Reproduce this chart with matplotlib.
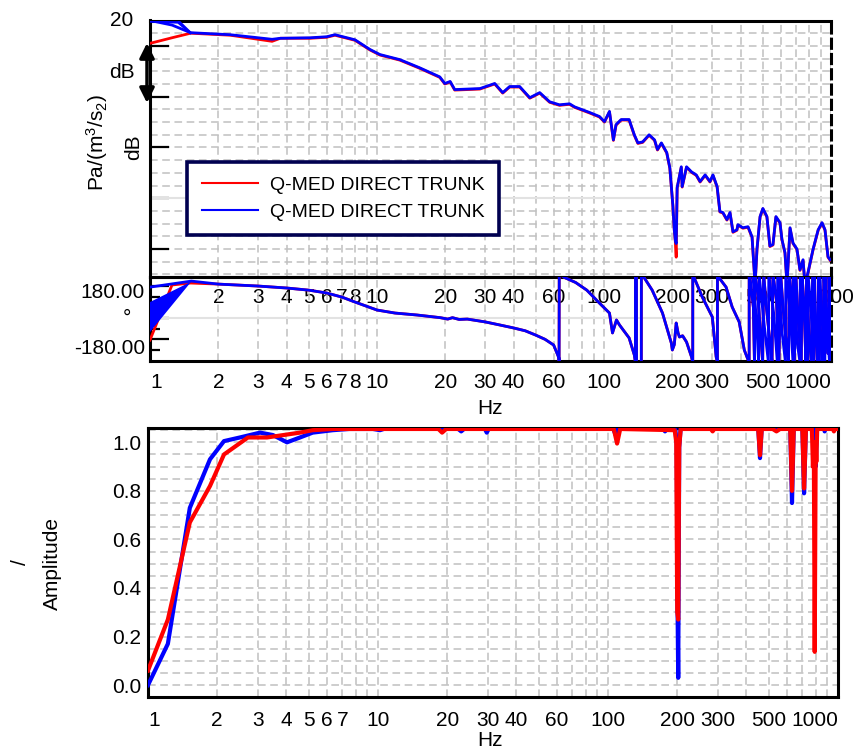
import numpy as np
import matplotlib
matplotlib.use('Agg')
import matplotlib.pyplot as plt
from matplotlib.lines import Line2D
from matplotlib.ticker import LogLocator, NullFormatter, FixedLocator, MultipleLocator

plt.rcParams['font.family'] = ['Liberation Sans', 'DejaVu Sans']
plt.rcParams['mathtext.fontset'] = 'custom'
plt.rcParams['mathtext.rm'] = 'Liberation Sans'
plt.rcParams['mathtext.it'] = 'Liberation Sans'
plt.rcParams['mathtext.default'] = 'regular'

# ---------------- data ----------------
# magnitude (dB) : (Hz, red, blue)
mag_freq = [1.0, 1.25, 1.51, 2.26, 3.45, 3.75, 5.08, 6.0, 6.53, 8.0, 9.31, 10.3, 12.6, 15.4,
            18.9, 19.9, 21.0, 22.0, 28.4, 33.0, 35.8, 38.4, 42.5, 47.1, 52.1, 57.6, 63.7,
            70.5, 74.2, 86.3, 95.5, 100.5, 105.7, 110, 113, 119, 129, 136, 141, 148, 158,
            167, 172, 179, 189, 195, 201, 204, 206, 208, 210, 219, 221, 231, 243, 255, 265,
            279, 293, 302, 315, 324, 334, 348, 359, 370, 385, 389, 409, 431, 449, 463, 472,
            487, 501, 522, 538, 555, 572, 596, 608, 627, 640, 660, 680, 708, 730, 753, 768,
            792, 834, 878, 913, 941, 970, 991]
mag_red = [15.5, 16.6, 17.5, 17.1, 15.9, 16.5, 16.5, 16.7, 17.1, 16.1, 14.2, 13.2, 12.2, 10.6,
           8.8, 7.5, 7.9, 6.3, 6.5, 7.5, 5.7, 6.9, 6.9, 4.7, 5.7, 3.9, 3.3,
           3.5, 2.9, 1.8, 1.0, 0.0, 2.0, -3.6, -0.6, 0.4, 0.4, -2.6, -4.2, -4.0, -2.6,
           -3.6, -5.5, -4.2, -6.1, -9.1, -16.4, -21.3, -23.3, -26.6, -13.0, -8.9, -12.8, -8.9, -9.9, -10.5, -11.8,
           -10.5, -11.8, -10.5, -12.8, -17.7, -17.9, -19.3, -17.9, -21.7, -21.3, -20.3, -20.9, -20.7, -22.7, -32.0, -25.1,
           -18.7, -17.1, -18.7, -24.5, -24.2, -18.7, -19.9, -23.2, -25.8, -32.0, -20.9, -23.9, -25.1, -29.2, -27.2, -32.0,
           -29.7, -25.1, -21.3, -19.9, -21.3, -26.6, -27.2]
mag_blue = [20.0, 19.1, 17.6, 17.2, 16.3, 16.5, 16.6, 16.8, 17.2, 16.2, 14.3, 13.3, 12.3, 10.7,
            8.9, 7.6, 8.0, 6.4, 6.6, 7.6, 5.8, 7.0, 7.0, 4.8, 5.8, 4.0, 3.4,
            3.6, 3.0, 1.9, 1.1, 0.1, 2.1, -3.5, -0.5, 0.5, 0.5, -2.5, -4.1, -3.9, -2.5,
            -3.5, -5.4, -4.1, -6.0, -9.0, -16.3, -21.2, -23.2, -23.9, -12.9, -8.8, -12.7, -8.8, -9.8, -10.4, -11.7,
            -10.4, -11.7, -10.4, -12.7, -17.6, -17.8, -19.2, -17.8, -21.6, -21.2, -20.2, -20.8, -20.6, -22.6, -32.0, -25.0,
            -18.6, -17.0, -18.6, -24.4, -24.1, -18.6, -19.8, -23.1, -25.7, -32.0, -20.8, -23.8, -25.0, -29.1, -27.1, -32.0,
            -29.6, -25.0, -21.2, -19.8, -21.2, -26.5, -27.1]
# extra blue repeat traces at the low-frequency end of the magnitude
mag_blue_extra_freq = [1.0, 1.33, 1.51]
mag_blue_extra = [[20.0, 20.0, 17.6], [19.8, 19.6, 17.5]]

# phase (deg), wrapped as displayed
phase_freq = [2.0, 3.0, 4.0, 5.0, 6.0, 7.0, 8.0, 10, 12, 15, 19, 20.5, 21.5, 23, 25, 30, 35, 40,
              45, 50, 55, 60, 63.3, 63.4, 63.5, 67, 75, 84, 95.5, 105.7, 109, 113.5, 117, 129,
              136, 137.5, 137.6, 139, 139.1, 146, 146.1, 150.7, 163, 181, 198, 200, 204, 208,
              212, 215, 222, 231, 243, 246, 246.1, 250, 271, 300, 312, 316, 316.1, 322, 345,
              367, 394, 415, 428, 436, 436.1, 440, 455, 460, 462, 475, 490, 500, 505, 520, 540,
              550, 555, 575, 590, 600, 620, 640, 650, 655, 670, 690, 700, 720, 740, 745, 760,
              775, 780, 800, 820, 830, 850, 870, 880, 900, 920, 930, 950, 970, 980, 990, 1000]
phase_vals = [191, 180, 169, 157, 141, 118, 90, 45, 28, 17, 2, -6, 2, -8, -6, -22, -40, -56,
              -72, -96, -120, -152, -225, -250, 250, 228, 200, 157, 84, 28, -84, -11, -39, -112,
              -208, -250, 250, 250, -250, -250, 250, 225, 157, 28, -141, -180, -150, -28,
              -84, -107, -100, -135, -219, -250, 250, 225, 118, 6, -219, -250, 250, 225, 174,
              62, -22, -180, -225, -250, 250, 225, 60, -250, 250, 150, -100, -250, 250, 50, -150,
              -250, 250, 100, -250, 250, 0, -180, -250, 250, 120, -250, 250, -50, -250, 250, 80,
              -250, 250, -100, -250, 250, 0, -250, 250, -120, -250, 250, 30, -200, 250, -60, -200]
# second (blue-only) chaotic branch visible above ~450 Hz
phase_blue_hf_freq = [452, 470, 480, 482, 510, 530, 532, 560, 580, 582, 610, 630, 632, 660,
                      680, 682, 710, 730, 732, 770, 790, 792, 815, 840, 842, 860, 890, 892,
                      910, 940, 942, 960, 985, 987, 1000]
phase_blue_hf = [250, -20, -250, 250, -60, -250, 250, 20, -250, 250, -90, -250, 250, 40,
                 -250, 250, -140, -250, 250, -30, -250, 250, 60, -250, 250, -80, -250, 250,
                 20, -250, 250, -40, -250, 250, 100]
phase_red_start_freq = [1.0, 1.25, 1.51]
phase_red_start = [-124, 186, 197]
phase_blue_start_freq = [1.0, 1.52]
phase_blue_start = [174, 208]
phase_blue_band_freq = [1.0, 1.0, 1.52]
phase_blue_band = [90, -79, 205]

# amplitude : (Hz, value)
amp_blue = [(1.0, 0.0), (1.22, 0.17), (1.52, 0.73), (1.86, 0.93), (2.14, 1.005), (2.51, 1.02),
            (3.07, 1.04), (3.49, 1.03), (4.02, 1.0), (4.58, 1.02), (5.2, 1.04), (6.36, 1.05),
            (7.5, 1.055), (9.5, 1.055), (10.2, 1.05), (11, 1.06), (22, 1.06), (23, 1.045),
            (24, 1.06), (29, 1.06), (29.7, 1.04), (30.5, 1.06), (105, 1.06), (108, 1.03),
            (111, 1.06), (172, 1.06), (177, 1.045), (182, 1.06), (196, 1.06), (199, 0.99),
            (200.5, 0.35), (202, 0.03), (204, 0.98), (207, 1.06), (450, 1.06), (458, 0.935),
            (466, 1.06), (620, 1.06), (631, 0.75), (642, 1.06), (700, 1.06), (712, 0.79),
            (725, 1.06), (790, 1.06), (800, 0.9), (810, 1.06), (870, 1.06), (875, 1.045),
            (882, 1.06), (1000, 1.06)]
amp_red = [(1.0, 0.06), (1.22, 0.27), (1.52, 0.67), (1.86, 0.82), (2.14, 0.95), (2.72, 1.02),
           (3.29, 1.02), (4.58, 1.04), (5.2, 1.05), (6.36, 1.055), (18.3, 1.055), (19.0, 1.04),
           (19.8, 1.055), (106, 1.055), (109.5, 0.995), (113, 1.055), (195, 1.05), (198, 1.0),
           (200, 0.3), (202, 0.27), (204, 0.98), (207, 1.055), (280, 1.055), (285, 1.045),
           (290, 1.055), (450, 1.055), (458, 0.947), (466, 1.055), (520, 1.055), (540, 1.045),
           (560, 1.055), (620, 1.055), (631, 0.80), (642, 1.055), (700, 1.055), (712, 0.81),
           (725, 1.055), (770, 1.055), (778, 0.9), (785, 1.0), (792, 0.137), (800, 1.0),
           (805, 0.92), (812, 1.055), (950, 1.055), (960, 1.045), (970, 1.055), (1000, 1.055)]

legend_labels = ['Q-MED DIRECT TRUNK', 'Q-MED DIRECT TRUNK']
top_xticks = [2, 3, 4, 5, 6, 7, 8, 10, 20, 30, 40, 60, 100, 200, 300, 500, 1000]
phase_xticks = [1, 2, 3, 4, 5, 6, 7, 8, 10, 20, 30, 40, 60, 100, 200, 300, 500, 1000]
amp_xticks = [1, 2, 3, 4, 5, 6, 7, 10, 20, 30, 40, 60, 100, 200, 300, 500, 1000]
amp_yticks = [0.0, 0.2, 0.4, 0.6, 0.8, 1.0]

# ---------------- figure ----------------
W, H = 855, 753
fig = plt.figure(figsize=(W / 100, H / 100), dpi=100)
FS = 15
LFS = 14
RED = '#ff0000'
BLUE = '#0000ff'
GRID = dict(color='#c0c0c0', linestyle=(0, (5, 3)), linewidth=1.1)


def rect(l, t, r, b):
    return [l / W, 1 - b / H, (r - l) / W, (b - t) / H]


def px(x, y):
    return x / W, 1 - y / H


def style_axes(ax, dashed_right=False):
    for s in ax.spines.values():
        s.set_linewidth(2.2)
        s.set_color('black')
    if dashed_right:
        ax.spines['right'].set_linestyle((0, (3, 2)))
    ax.set_xscale('log')
    ax.set_xlim(1, 1000)
    ax.xaxis.set_minor_locator(LogLocator(base=10, subs=np.arange(2, 10)))
    ax.xaxis.set_minor_formatter(NullFormatter())
    ax.tick_params(axis='x', which='both', length=0, labelsize=FS)


# ---- magnitude ----
ax1 = fig.add_axes(rect(150, 20.5, 831, 277))
style_axes(ax1, dashed_right=True)
ax1.set_ylim(-30.5, 20)
ax1.yaxis.set_major_locator(FixedLocator([15, 5, -5, -15, -25]))
ax1.yaxis.set_minor_locator(MultipleLocator(2.5))
ax1.tick_params(axis='y', which='major', direction='in', length=14, width=1.6, labelleft=False)
ax1.tick_params(axis='y', which='minor', length=0)
ax1.grid(True, which='both', **GRID)
ax1.set_axisbelow(True)
ax1.axhline(-15, color='#e2e2e2', lw=1.5, zorder=1)
ax1.set_xticks(top_xticks)
ax1.set_xticklabels([str(t) for t in top_xticks])
ax1.tick_params(axis='x', pad=8)
ax1.plot(mag_freq, mag_red, color=RED, lw=2.0, zorder=3)
for ex in mag_blue_extra:
    ax1.plot(mag_blue_extra_freq, ex, color=BLUE, lw=1.6, zorder=4)
ax1.plot(mag_freq, mag_blue, color=BLUE, lw=2.0, zorder=4)
handles = [Line2D([], [], color=RED, lw=1.5), Line2D([], [], color=BLUE, lw=1.5)]
leg = ax1.legend(handles, legend_labels, loc='upper left', bbox_to_anchor=px(187, 162),
                 bbox_transform=fig.transFigure, borderaxespad=0, frameon=True, fancybox=False,
                 edgecolor='#000050', framealpha=1, fontsize=LFS, handlelength=2.9,
                 handletextpad=0.6, borderpad=0.75, labelspacing=0.45)
leg.get_frame().set_linewidth(2.6)
leg.set_zorder(10)

# ---- phase ----
ax2 = fig.add_axes(rect(150, 277, 831, 361))
ax2.patch.set_alpha(0)
style_axes(ax2, dashed_right=True)
ax2.set_ylim(-242, 231)
ax2.yaxis.set_major_locator(FixedLocator([180, 0, -120]))
ax2.yaxis.set_minor_locator(FixedLocator([120, 60, -60, -180]))
ax2.tick_params(axis='y', which='major', direction='in', length=14, width=1.6, labelleft=False)
ax2.tick_params(axis='y', which='minor', direction='in', length=7, width=1.6, labelleft=False)
ax2.grid(True, axis='x', which='both', **GRID)
ax2.set_axisbelow(True)
ax2.axhline(0, color='#e2e2e2', lw=1.5, zorder=1)
ax2.set_xticks(phase_xticks)
ax2.set_xticklabels([str(t) for t in phase_xticks])
ax2.tick_params(axis='x', pad=9)
labs = ax2.get_xticklabels()
labs[0].set_ha('left')
labs[-1].set_ha('right')
ax2.plot(phase_red_start_freq + phase_freq, phase_red_start + phase_vals, color=RED, lw=2.0, zorder=3)
ax2.fill(phase_blue_band_freq, phase_blue_band, color=BLUE, lw=0, zorder=4)
ax2.plot(phase_blue_start_freq + phase_freq, phase_blue_start + phase_vals, color=BLUE, lw=2.0, zorder=4)
ax2.plot(phase_blue_hf_freq, phase_blue_hf, color=BLUE, lw=2.0, zorder=4)

# ---- amplitude ----
ax3 = fig.add_axes(rect(148, 428, 838, 697))
style_axes(ax3)
ax3.set_ylim(-0.049, 1.059)
ax3.set_yticks(amp_yticks)
ax3.set_yticklabels([f'{v:.1f}' for v in amp_yticks])
ax3.yaxis.set_minor_locator(MultipleLocator(0.05))
ax3.tick_params(axis='y', which='both', length=0, labelsize=FS, pad=5)
ax3.grid(True, which='both', **GRID)
ax3.set_axisbelow(True)
ax3.set_xticks(amp_xticks)
ax3.set_xticklabels([str(t) for t in amp_xticks])
ax3.tick_params(axis='x', pad=10)
labs = ax3.get_xticklabels()
labs[0].set_ha('left')
labs[-1].set_ha('right')
bf, bv = np.array(amp_blue).T
rf, rv = np.array(amp_red).T
ax3.plot(bf, bv, color=BLUE, lw=3.0, zorder=3)
ax3.plot(rf, rv, color=RED, lw=3.0, zorder=4)

# ---- texts ----
fig.text(*px(133, 21), '20', ha='right', va='center', fontsize=FS)
fig.text(*px(122, 72), 'dB', ha='center', va='center', fontsize=FS)
fig.text(*px(97, 142), r'Pa/(m$^{3}$/s$_{2}$)', rotation=90, ha='center', va='center', fontsize=FS)
fig.text(*px(134, 147), 'dB', rotation=90, ha='center', va='center', fontsize=FS)
fig.text(*px(145, 292), '180.00', ha='right', va='center', fontsize=FS)
fig.text(*px(127, 318), '°', ha='center', va='center', fontsize=FS)
fig.text(*px(145, 348), '-180.00', ha='right', va='center', fontsize=FS)
fig.text(*px(490, 408), 'Hz', ha='center', va='center', fontsize=FS)
fig.text(*px(490, 750), 'Hz', ha='center', va='bottom', fontsize=FS)
fig.text(*px(20, 562), '/', rotation=90, ha='center', va='center', fontsize=FS)
fig.text(*px(52, 563), 'Amplitude', rotation=90, ha='center', va='center', fontsize=FS)
fig.add_artist(matplotlib.patches.FancyArrowPatch(px(147, 43), px(147, 103), transform=fig.transFigure,
                                                  arrowstyle='<|-|>', mutation_scale=22, lw=2.5,
                                                  color='black', shrinkA=0, shrinkB=0))

fig.savefig('out.png', dpi=100)
